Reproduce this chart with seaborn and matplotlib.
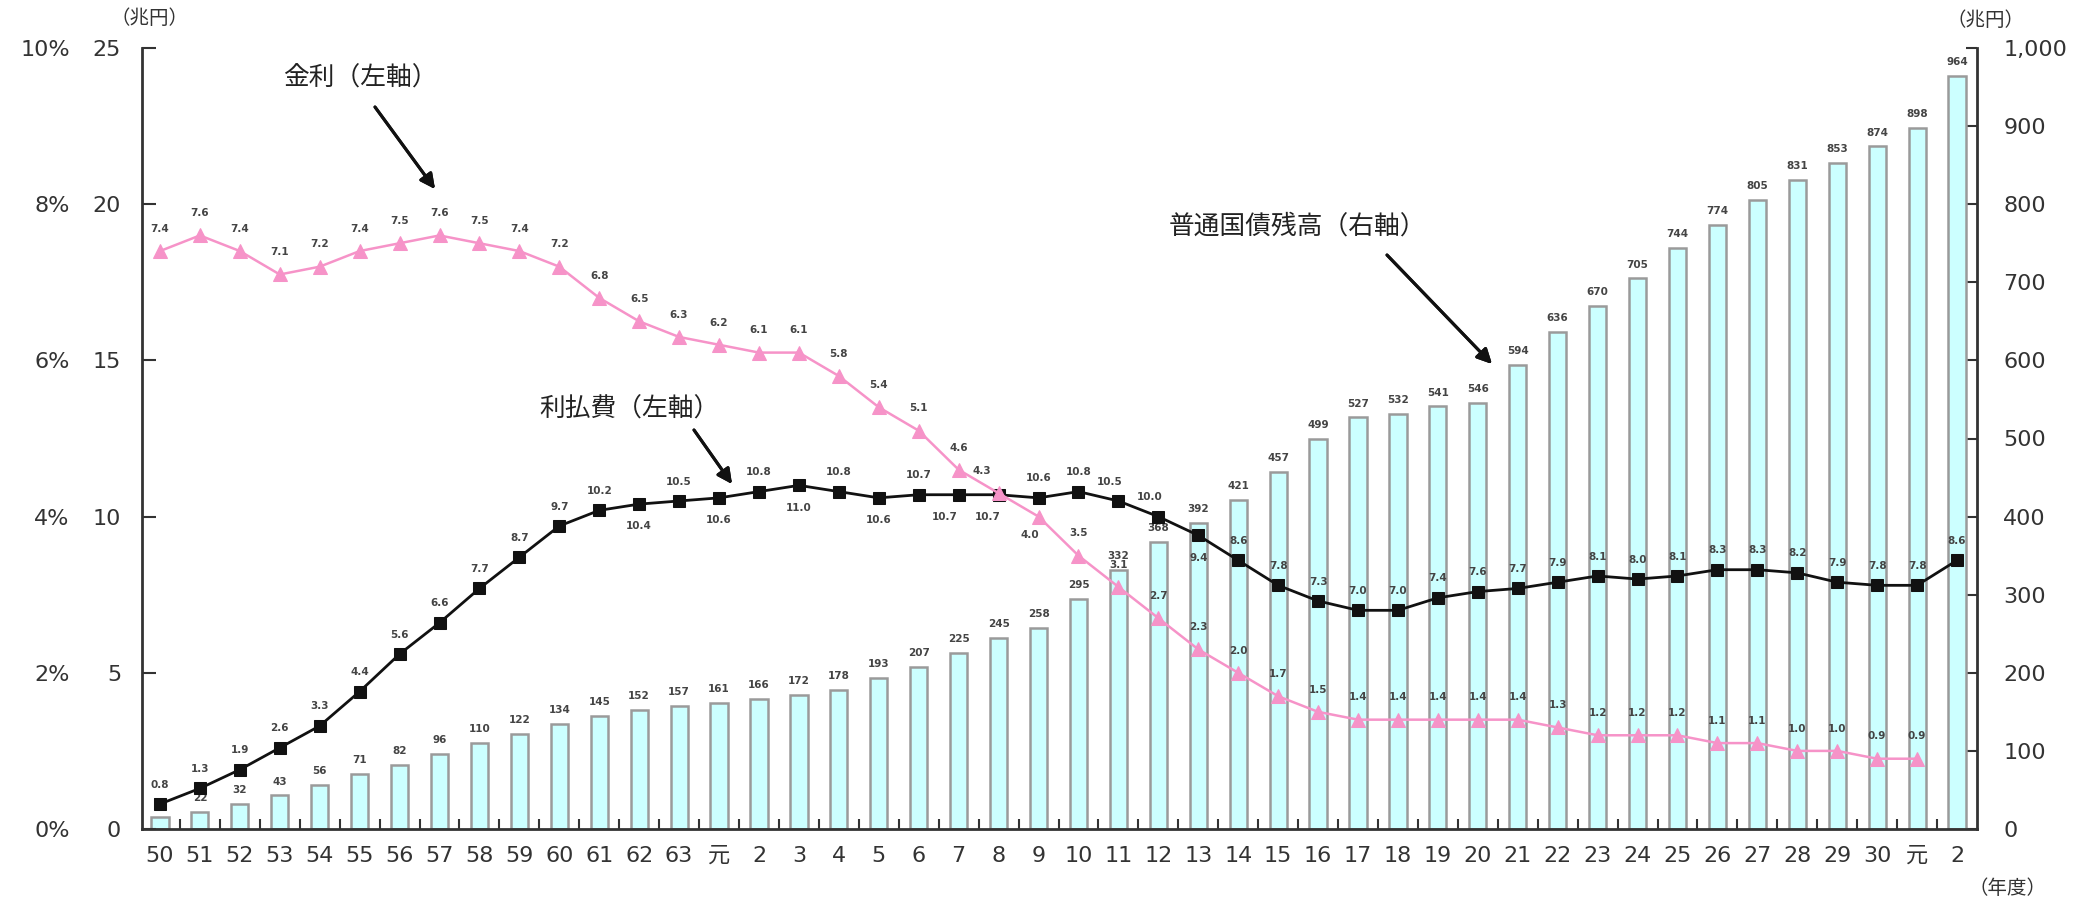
import numpy as np
import pandas as pd
import seaborn as sns
import matplotlib.pyplot as plt
from matplotlib.ticker import FuncFormatter

# fiscal years: Showa 50-63, Heisei 元-30, Reiwa 元-2
years = ['50', '51', '52', '53', '54', '55', '56', '57', '58', '59', '60', '61', '62', '63',
         '元', '2', '3', '4', '5', '6', '7', '8', '9', '10', '11', '12', '13', '14', '15',
         '16', '17', '18', '19', '20', '21', '22', '23', '24', '25', '26', '27', '28', '29',
         '30', '元', '2']

# outstanding ordinary government bonds (trillion yen, right axis)
debt = [15, 22, 32, 43, 56, 71, 82, 96, 110, 122, 134, 145, 152, 157,
        161, 166, 172, 178, 193, 207, 225, 245, 258, 295, 332, 368, 392, 421, 457,
        499, 527, 532, 541, 546, 594, 636, 670, 705, 744, 774, 805, 831, 853,
        874, 898, 964]

# interest payments (trillion yen, left axis)
pay = [0.8, 1.3, 1.9, 2.6, 3.3, 4.4, 5.6, 6.6, 7.7, 8.7, 9.7, 10.2, 10.4, 10.5,
       10.6, 10.8, 11.0, 10.8, 10.6, 10.7, 10.7, 10.7, 10.6, 10.8, 10.5, 10.0, 9.4, 8.6, 7.8,
       7.3, 7.0, 7.0, 7.4, 7.6, 7.7, 7.9, 8.1, 8.0, 8.1, 8.3, 8.3, 8.2, 7.9,
       7.8, 7.8, 8.6]

# interest rate (%, left outer axis); no value for the last year
rate = [7.4, 7.6, 7.4, 7.1, 7.2, 7.4, 7.5, 7.6, 7.5, 7.4, 7.2, 6.8, 6.5, 6.3,
        6.2, 6.1, 6.1, 5.8, 5.4, 5.1, 4.6, 4.3, 4.0, 3.5, 3.1, 2.7, 2.3, 2.0, 1.7,
        1.5, 1.4, 1.4, 1.4, 1.4, 1.4, 1.3, 1.2, 1.2, 1.2, 1.1, 1.1, 1.0, 1.0,
        0.9, 0.9, np.nan]

df = pd.DataFrame({'pos': np.arange(len(years)), 'debt': debt, 'pay': pay, 'rate': rate})

# label placement tweaks (offset points), by index
pay_below = {12: 0, 14: 0, 16: 0, 18: 0, 20: -10, 21: -8, 26: 0}
pay_shift = {24: -6, 25: -6}
rate_below = {22: -6}
rate_shift = {21: -12}

sns.set_style('ticks')
plt.rcParams['font.family'] = ['DejaVu Sans', 'Noto Sans CJK JP']

W, H = 2096, 901
fig = plt.figure(figsize=(W / 100, H / 100), dpi=100)


def fxy(x, y):
    return (x / W, 1 - y / H)


axb = fig.add_axes([142 / W, 1 - 829 / H, (1977 - 142) / W, (829 - 48) / H])
ax = axb.twinx()
axr = axb.twinx()

pink = '#f693c8'
ink = '#333333'
lab = dict(fontsize=7.5, fontweight='bold', color='#444444', ha='center', va='center')

sns.barplot(data=df, x='pos', y='debt', native_scale=True, width=0.43, color='#ccffff',
            edgecolor='#9a9a9a', linewidth=1.8, saturation=1, errorbar=None, ax=axb)
sns.lineplot(data=df, x='pos', y='pay', color='#111111', linewidth=2.0, marker='s',
             markersize=9, markeredgecolor='#111111', ax=ax)
sns.lineplot(data=df.dropna(), x='pos', y='rate', color=pink, linewidth=1.8, marker='^',
             markersize=10, markeredgecolor=pink, ax=axr)

# value labels
for i, v in enumerate(debt):
    axb.annotate(f'{v}', (i, v), xytext=(0, 10), textcoords='offset points', **lab)
for i, v in enumerate(pay):
    if i in pay_below:
        off = (pay_below[i], -16)
    else:
        off = (pay_shift.get(i, 0), 14)
    ax.annotate(f'{v:.1f}', (i, v), xytext=off, textcoords='offset points', **lab)
for i, v in enumerate(rate):
    if np.isnan(v):
        continue
    if i in rate_below:
        off = (rate_below[i], -13)
    else:
        off = (rate_shift.get(i, 0), 16)
    axr.annotate(f'{v:.1f}', (i, v), xytext=off, textcoords='offset points', **lab)

# axes
for a in (axb, ax, axr):
    a.set_xlabel('')
    a.set_ylabel('')
    for s in a.spines.values():
        s.set_visible(False)

axb.set_xlim(-0.45, 45.5)
axb.set_xticks(df['pos'])
axb.set_xticklabels(years)
axb.set_xticks(np.arange(0.5, 45), minor=True)
axb.tick_params(axis='x', which='major', length=0, pad=12, labelsize=16, colors=ink)
axb.tick_params(axis='x', which='minor', length=7, width=1.5, direction='in', color=ink)

axb.yaxis.tick_right()
axb.set_ylim(0, 1000)
axb.set_yticks(np.arange(0, 1001, 100))
axb.yaxis.set_major_formatter(FuncFormatter(lambda v, p: f'{int(v):,}'))
axb.tick_params(axis='y', direction='in', length=8, width=1.5, pad=19, labelsize=16, colors=ink)
axb.spines['right'].set_visible(True)
axb.spines['bottom'].set_visible(True)

ax.yaxis.tick_left()
ax.set_ylim(0, 25)
ax.set_yticks(np.arange(0, 26, 5))
ax.tick_params(axis='y', direction='in', length=10, width=1.5, pad=15, labelsize=16, colors=ink)
ax.spines['left'].set_visible(True)

axr.yaxis.tick_left()
axr.set_ylim(0, 10)
axr.set_yticks(np.arange(0, 11, 2))
axr.yaxis.set_major_formatter(FuncFormatter(lambda v, p: f'{int(v)}%'))
axr.tick_params(axis='y', length=0, pad=52, labelsize=16, colors=ink)

for a in (axb, ax):
    for s in a.spines.values():
        s.set_linewidth(2)
        s.set_color(ink)

# unit labels
jp = ['Noto Sans CJK JP', 'DejaVu Sans']
fig.text(*fxy(150, 19), '（兆円）', ha='center', va='center', fontsize=14, family=jp, color=ink)
fig.text(*fxy(1985, 20), '（兆円）', ha='center', va='center', fontsize=14, family=jp, color=ink)
fig.text(*fxy(2007, 888), '（年度）', ha='center', va='center', fontsize=14, family=jp, color=ink)

# series call-outs
callouts = [
    ('金利（左軸）', (360, 79), (375, 107), (435, 189)),
    ('利払費（左軸）', (629, 410), (694, 430), (732, 484)),
    ('普通国債残高（右軸）', (1297, 227), (1387, 255), (1492, 364)),
]
for txt, tpos, start, tip in callouts:
    fig.text(*fxy(*tpos), txt, ha='center', va='center', fontsize=18.5, family=jp, color='#222222')
    fig.add_artist(plt.annotate('', xy=fxy(*tip), xytext=fxy(*start), xycoords='figure fraction',
                                textcoords='figure fraction',
                                arrowprops=dict(arrowstyle='-|>', lw=2.2, color='#111111',
                                                mutation_scale=22, shrinkA=0, shrinkB=0)))

fig.savefig('out.png', dpi=100, facecolor='white')
